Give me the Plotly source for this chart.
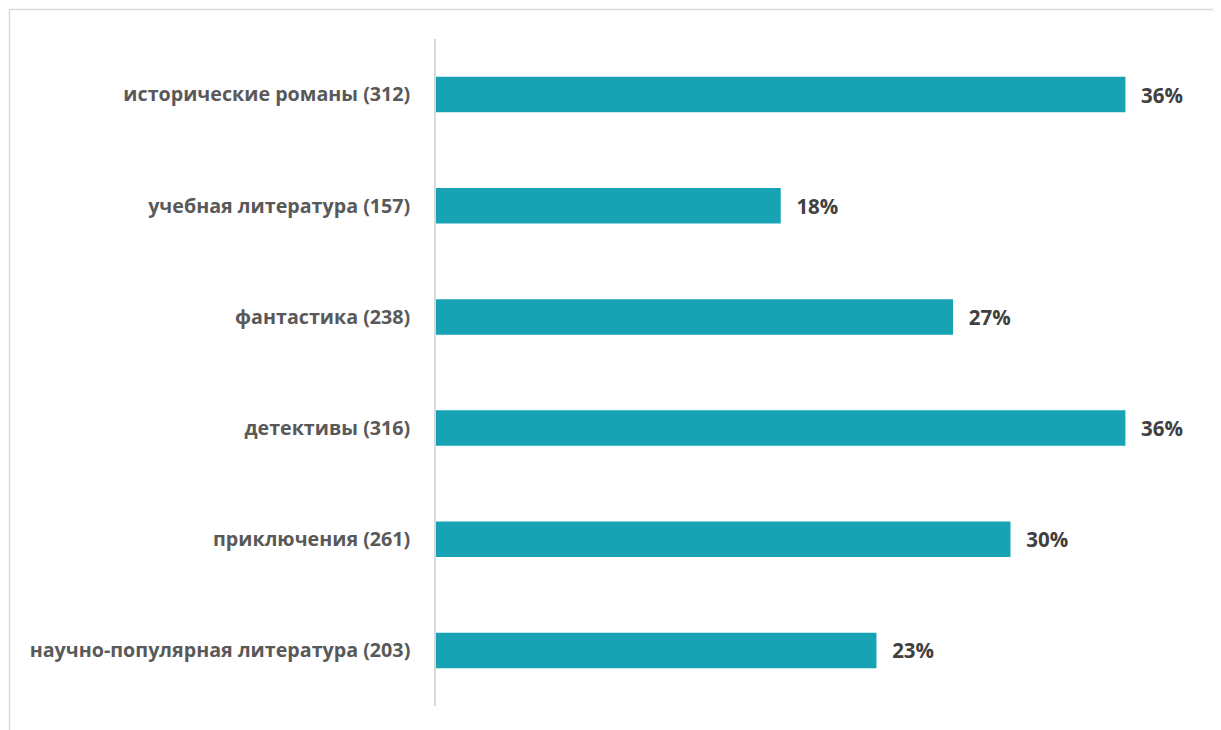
import plotly.graph_objects as go

categories = [
    "исторические романы (312)",
    "учебная литература (157)",
    "фантастика (238)",
    "детективы (316)",
    "приключения (261)",
    "научно-популярная литература (203)",
]
values = [36, 18, 27, 36, 30, 23]
value_labels = ["36%", "18%", "27%", "36%", "30%", "23%"]

# page offset of the figure (default body margin)
OFF = 8
W, H = 1221, 730
L, R = 436 - OFF, 1202 - OFF
T, B = 39 - OFF, 706 - OFF

fig = go.Figure()
fig.add_trace(go.Bar(
    y=categories, x=values, orientation="h",
    marker=dict(color="#17A3B4", line=dict(width=0)),
    width=0.32,
    text=["  \u200a" + t for t in value_labels],
    textposition="outside",
    textfont=dict(family="Open Sans", size=20.5, color="#404040", weight="bold"),
    cliponaxis=False,
    hoverinfo="skip",
))

def px2x(px):
    return (px - OFF - L) / (R - L)

def py2y(py):
    return (B - (py - OFF)) / (B - T)

fig.update_layout(
    width=W, height=H,
    margin=dict(l=L, r=W - R, t=T, b=H - B),
    paper_bgcolor="white", plot_bgcolor="white",
    showlegend=False,
    xaxis=dict(range=[0, 40], visible=False, fixedrange=True),
    yaxis=dict(
        autorange="reversed",
        showline=True, linecolor="#D9D9D9", linewidth=1.5,
        ticks="", showgrid=False, zeroline=False,
        ticklabelstandoff=20,
        tickfont=dict(family="Open Sans", size=19.7, color="#595959", weight="bold"),
    ),
    shapes=[
        dict(type="line", xref="paper", yref="paper",
             x0=px2x(9.5), x1=px2x(1235), y0=py2y(9.5), y1=py2y(9.5),
             line=dict(color="#D9D9D9", width=1.5)),
        dict(type="line", xref="paper", yref="paper",
             x0=px2x(9.5), x1=px2x(9.5), y0=py2y(9.5), y1=py2y(745),
             line=dict(color="#D9D9D9", width=1.5)),
    ],
)

fig.write_html("out.html")
